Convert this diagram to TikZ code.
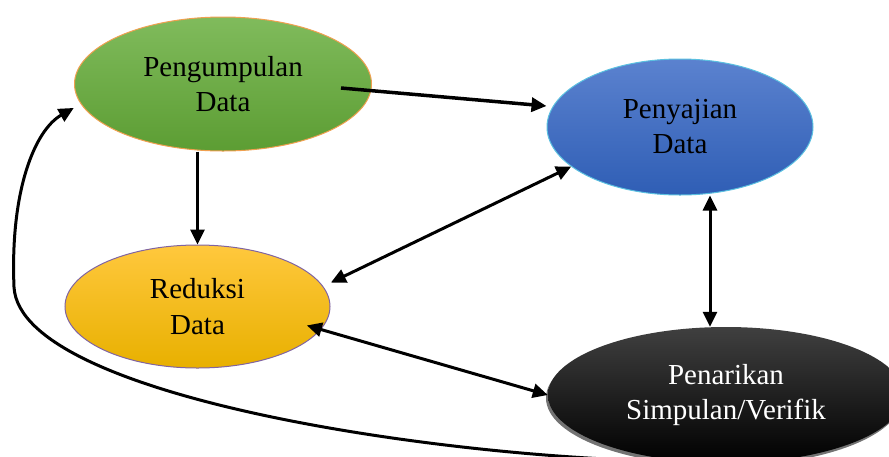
\documentclass[tikz,border=0pt]{standalone}
\usepackage{fontspec}
\setmainfont{Liberation Serif}
\usetikzlibrary{shapes.geometric,arrows.meta,shadows,backgrounds}

\definecolor{greentop}{HTML}{80BB5C}
\definecolor{greenbot}{HTML}{5C9D33}
\definecolor{greenline}{HTML}{F0A050}
\definecolor{bluetop}{HTML}{5B82CF}
\definecolor{bluebot}{HTML}{2F5EB5}
\definecolor{blueline}{HTML}{5BC0E0}
\definecolor{yellowtop}{HTML}{FFC83D}
\definecolor{yellowmid}{HTML}{FFC000}
\definecolor{yellowbot}{HTML}{E8B000}
\definecolor{yellowline}{HTML}{8064A2}

\tikzset{
  phase/.style={ellipse, inner sep=0pt, align=center, font=\fontsize{29}{35}\selectfont},
  link/.style={line width=3pt, -{Triangle[length=15pt,width=14pt]}},
  twoway/.style={line width=3pt, {Triangle[length=15pt,width=14pt]}-{Triangle[length=15pt,width=14pt]}}
}

\begin{document}
\begin{tikzpicture}[x=1pt,y=-1pt]

    \useasboundingbox (0,0) rectangle (889,456);

    \node [phase, minimum width=297pt, minimum height=134pt, draw=greenline, line width=1pt,
           top color=greentop, bottom color=greenbot] (collect) at (223,84) {Pengumpulan\\Data};
    \node [phase, minimum width=266pt, minimum height=136pt, draw=blueline, line width=1pt,
           top color=bluetop, bottom color=bluebot] (present) at (680,127) {Penyajian\\Data};
    \node [phase, minimum width=265pt, minimum height=123pt, draw=yellowline, line width=1pt,
           top color=yellowtop, middle color=yellowmid, bottom color=yellowbot] (reduce) at (197.5,306.5) {Reduksi\\[1pt]Data};
    \node [phase, minimum width=356pt, minimum height=136pt, text=white,
           top color=black!75, middle color=black, bottom color=black,
           drop shadow={shadow xshift=-2pt, shadow yshift=-3pt, fill=black!55, opacity=1}] (concl) at (726,395) {Penarikan\\Simpulan/Verifik};

    \draw [link, line width=3.5pt] ([shift={(-31,4)}]collect.east) -- ([yshift=21pt]present.west);
    \draw [link] (collect.south -| reduce.north) -- (reduce.north);

    \draw [twoway] ([shift={(9,-2)}]reduce.10) -- (present.200);
    \draw [twoway] ([shift={(-15,-3)}]reduce.350) -- (concl.west);
    \draw [twoway] ([xshift=30pt]present.south) -- ([xshift=-16pt]concl.north);

    \begin{scope}[on background layer]
    \draw [link, shorten >=8pt] (concl.240) .. controls (450,460) and (20,398) .. (14,287)
          .. controls (10,190) and (35,130) .. (collect.188);
    \end{scope}

\end{tikzpicture}
\end{document}
